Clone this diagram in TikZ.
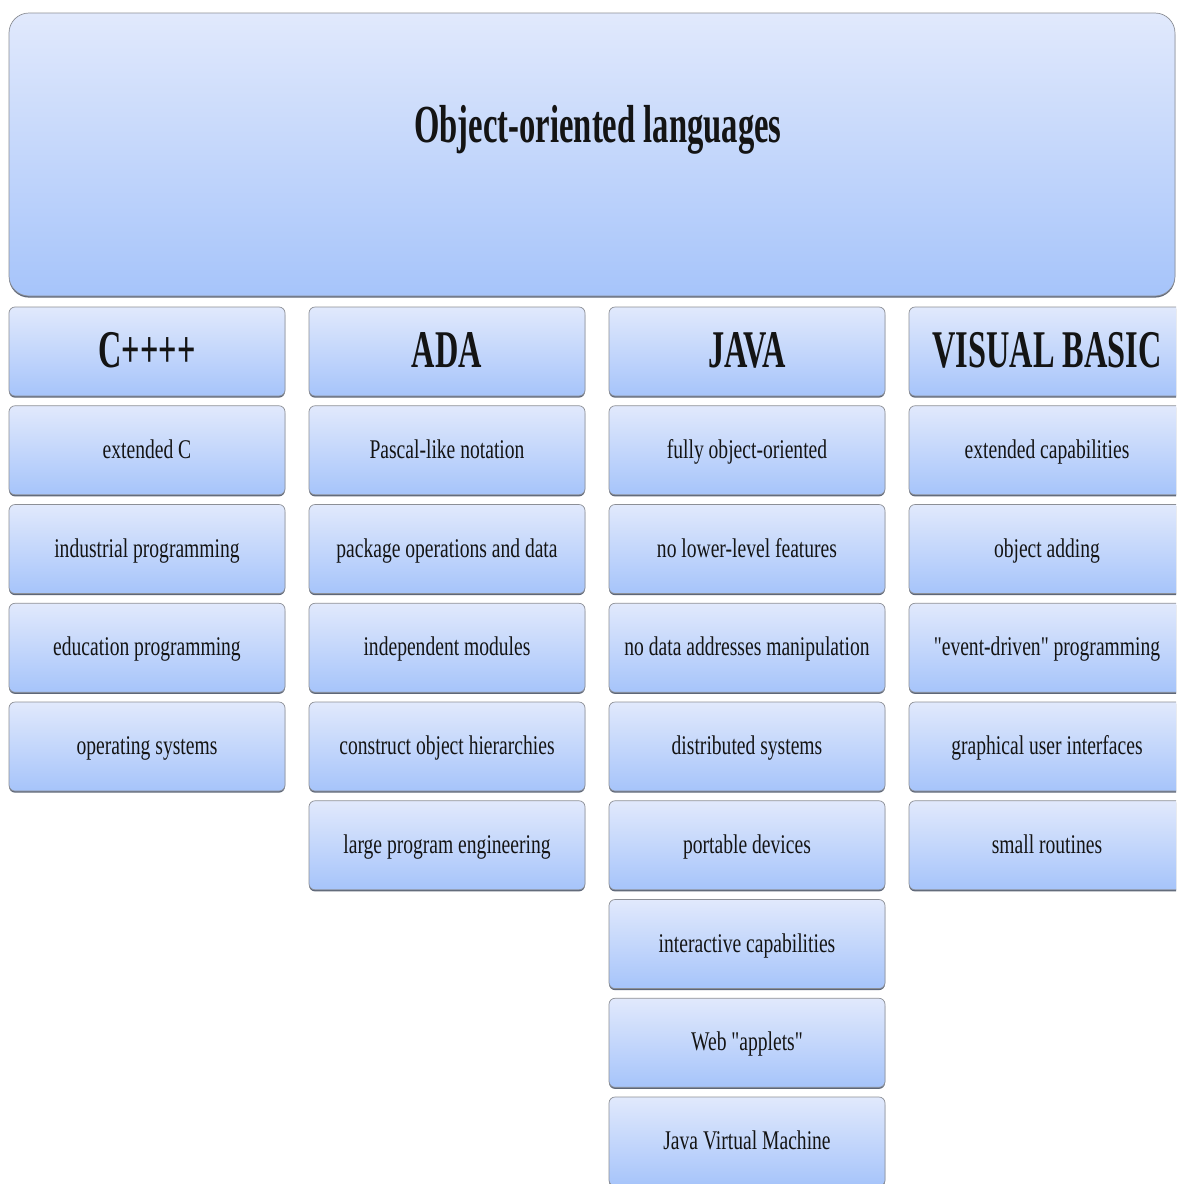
\documentclass[tikz,border=0pt]{standalone}
\usepackage{fontspec}
\setmainfont{Liberation Serif}
\newfontfamily\hdfont[FakeStretch=0.61]{Liberation Serif}
\newfontfamily\bodyfont[FakeStretch=0.725]{Liberation Serif}
\usetikzlibrary{shadows}
\definecolor{boxtop}{HTML}{E1E9FC}
\definecolor{boxbot}{HTML}{A6C4FA}
\definecolor{boxline}{HTML}{8C8F96}
\definecolor{boxshadow}{HTML}{5E6778}
\definecolor{txt}{HTML}{141414}
\tikzset{
  basebox/.style={draw=boxline, line width=0.7pt, top color=boxtop, bottom color=boxbot,
    drop shadow={shadow xshift=0pt, shadow yshift=-1.6pt, fill=boxshadow, opacity=1},
    inner sep=0pt, text=txt, align=center},
  titlebox/.style={basebox, rounded corners=20pt, minimum width=1166pt, minimum height=283pt},
  headbox/.style={basebox, rounded corners=6pt, minimum width=276pt, minimum height=89pt,
    text height=36pt, text depth=5pt,
    font=\hdfont\bfseries\fontsize{53}{56}\selectfont},
  itembox/.style={basebox, rounded corners=6pt, minimum width=276pt, minimum height=89pt,
    text height=20pt, text depth=4pt,
    font=\bodyfont\fontsize{27}{30}\selectfont},
  titletext/.style={font=\hdfont\bfseries\fontsize{53.5}{57}\selectfont, text=txt, inner sep=0pt}
}
\begin{document}
\begin{tikzpicture}[x=1pt,y=-1pt]
\useasboundingbox (0,0) rectangle (1176,1184);
\clip (0,0) rectangle (1176,1184);
\fill[white] (0,0) rectangle (1176,1184);

\node[titlebox] (title) at (592,154.5) {};
\node[titletext, anchor=base] (titlelabel) at (598,142) {Object-oriented languages};

% column C++
\node[headbox] (c0) at (147,351.5) {C++++};
\node[itembox] (c1) at (147,450.25) {extended C};
\node[itembox] (c2) at (147,549) {industrial programming};
\node[itembox] (c3) at (147,647.75) {education programming};
\node[itembox] (c4) at (147,746.5) {operating systems};

% column ADA
\node[headbox] (a0) at (447,351.5) {ADA};
\node[itembox] (a1) at (447,450.25) {Pascal-like notation};
\node[itembox] (a2) at (447,549) {package operations and data};
\node[itembox] (a3) at (447,647.75) {independent modules};
\node[itembox] (a4) at (447,746.5) {construct object hierarchies};
\node[itembox] (a5) at (447,845.25) {large program engineering};

% column JAVA
\node[headbox] (j0) at (747,351.5) {JAVA};
\node[itembox] (j1) at (747,450.25) {fully object-oriented};
\node[itembox] (j2) at (747,549) {no lower-level  features};
\node[itembox] (j3) at (747,647.75) {no data addresses manipulation};
\node[itembox] (j4) at (747,746.5) {distributed systems};
\node[itembox] (j5) at (747,845.25) {portable devices};
\node[itembox] (j6) at (747,944) {interactive  capabilities};
\node[itembox] (j7) at (747,1042.75) {Web "applets"};
\node[itembox] (j8) at (747,1141.5) {Java Virtual Machine};

% column VISUAL BASIC
\node[headbox] (v0) at (1047,351.5) {VISUAL BASIC};
\node[itembox] (v1) at (1047,450.25) {extended capabilities};
\node[itembox] (v2) at (1047,549) {object adding};
\node[itembox] (v3) at (1047,647.75) {"event-driven" programming};
\node[itembox] (v4) at (1047,746.5) {graphical user interfaces};
\node[itembox] (v5) at (1047,845.25) {small routines};
\end{tikzpicture}
\end{document}
